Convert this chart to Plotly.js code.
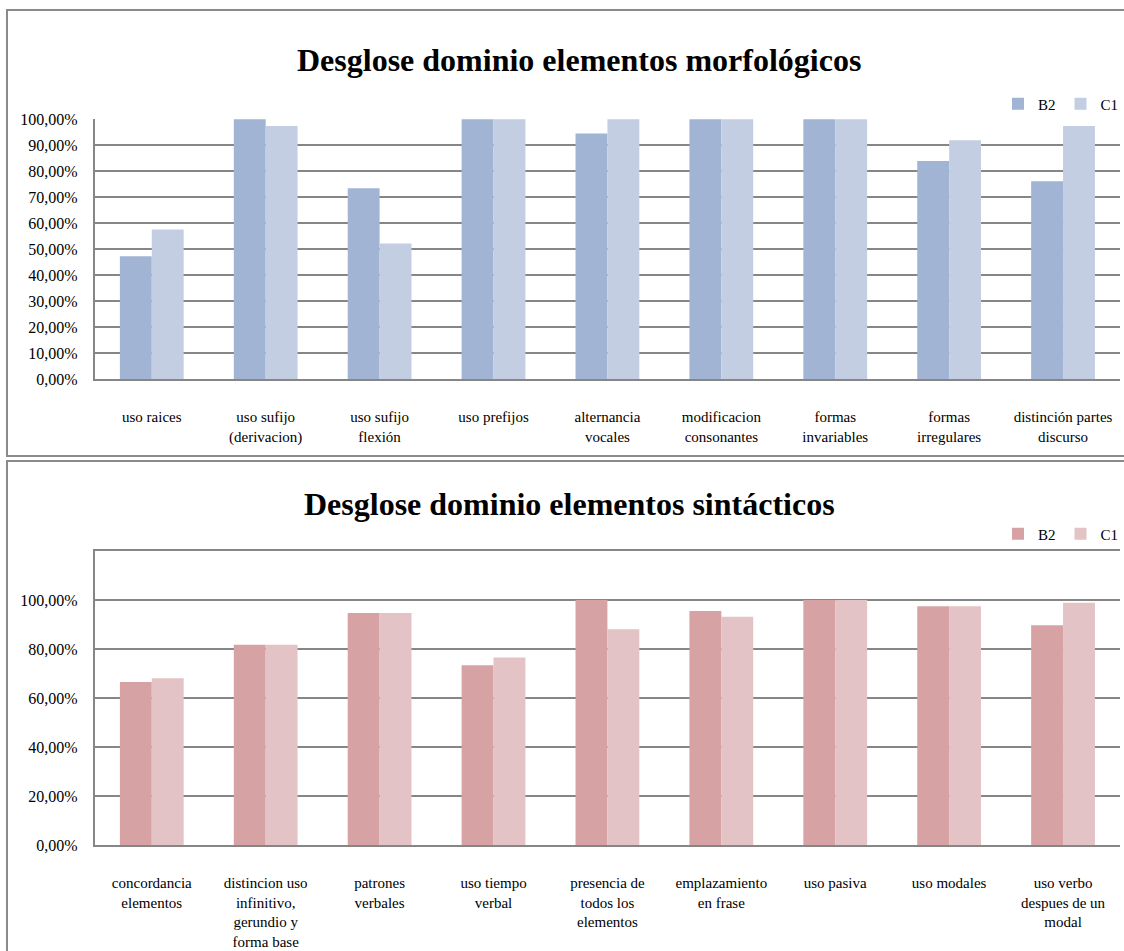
<!DOCTYPE html>
<html>
<head>
<meta charset="utf-8">
<script src="https://cdn.plot.ly/plotly-3.0.1.min.js"></script>
<style>html,body{margin:0;padding:0;background:#fff;}#chart{width:1124px;height:951px;}</style>
</head>
<body>
<div id="chart"></div>
<script>
// ---- Data ----
var morphCategories = ["uso raices", "uso sufijo<br>(derivacion)", "uso sufijo<br>flexión", "uso prefijos",
  "alternancia<br>vocales", "modificacion<br>consonantes", "formas<br>invariables", "formas<br>irregulares",
  "distinción partes<br>discurso"];
var morphB2 = [0.472, 1.0, 0.734, 1.0, 0.945, 1.0, 1.0, 0.839, 0.761];
var morphC1 = [0.575, 0.974, 0.521, 1.0, 1.0, 1.0, 1.0, 0.919, 0.974];

var syntCategories = ["concordancia<br>elementos", "distincion uso<br>infinitivo,<br>gerundio y<br>forma base",
  "patrones<br>verbales", "uso tiempo<br>verbal", "presencia de<br>todos los<br>elementos",
  "emplazamiento<br>en frase", "uso pasiva", "uso modales", "uso verbo<br>despues de un<br>modal"];
var syntB2 = [0.665, 0.817, 0.947, 0.734, 1.0, 0.955, 1.0, 0.974, 0.897];
var syntC1 = [0.681, 0.817, 0.947, 0.765, 0.881, 0.932, 1.0, 0.974, 0.989];

var seriesNames = ["B2", "C1"];
var morphTitle = "Desglose dominio elementos morfológicos";
var syntTitle = "Desglose dominio elementos sintácticos";
var morphTickVals = [0, 0.1, 0.2, 0.3, 0.4, 0.5, 0.6, 0.7, 0.8, 0.9, 1.0];
var syntTickVals = [0, 0.2, 0.4, 0.6, 0.8, 1.0, 1.2];
var syntTickText = ["0,00%", "20,00%", "40,00%", "60,00%", "80,00%", "100,00%", ""];

// ---- Geometry helpers (pixel -> paper) ----
var W = 1124, H = 951;
function px(x) { return x / W; }
function py(y) { return 1 - y / H; }

var FONT = "'Liberation Serif', 'Times New Roman', 'DejaVu Serif', serif";
var GRID = "#868686";

var traces = [
  { type: "bar", x: morphCategories, y: morphB2, name: seriesNames[0], xaxis: "x", yaxis: "y",
    marker: { color: "#A1B4D4" }, legend: "legend", hoverinfo: "x+y" },
  { type: "bar", x: morphCategories, y: morphC1, name: seriesNames[1], xaxis: "x", yaxis: "y",
    marker: { color: "#C3CEE3" }, legend: "legend", hoverinfo: "x+y" },
  { type: "bar", x: syntCategories, y: syntB2, name: seriesNames[0], xaxis: "x2", yaxis: "y2",
    marker: { color: "#D6A2A3" }, legend: "legend2", hoverinfo: "x+y" },
  { type: "bar", x: syntCategories, y: syntC1, name: seriesNames[1], xaxis: "x2", yaxis: "y2",
    marker: { color: "#E3C3C5" }, legend: "legend2", hoverinfo: "x+y" }
];

var xCommon = {
  showgrid: false, zeroline: false, showline: true, linecolor: GRID, linewidth: 2,
  ticks: "outside", ticklen: 23, tickcolor: "rgba(0,0,0,0)",
  tickfont: { family: FONT, size: 15, color: "#000" }, tickangle: 0, fixedrange: true
};
var yCommon = {
  showgrid: true, gridcolor: GRID, gridwidth: 2, zeroline: false, showline: true,
  linecolor: GRID, linewidth: 2, ticks: "outside", ticklen: 12, tickcolor: "rgba(0,0,0,0)",
  tickfont: { family: FONT, size: 16, color: "#000" }, fixedrange: true
};

var layout = {
  width: W, height: H,
  margin: { l: 0, r: 0, t: 0, b: 0 },
  paper_bgcolor: "#fff", plot_bgcolor: "rgba(0,0,0,0)",
  separators: ",.",
  barmode: "group", bargap: 0.44, bargroupgap: 0,
  font: { family: FONT, color: "#000" },
  xaxis: Object.assign({}, xCommon, { domain: [px(95), px(1122)], anchor: "y" }),
  yaxis: Object.assign({}, yCommon, { domain: [py(379), py(119)], anchor: "x",
    range: [0, 1.0005], tickvals: morphTickVals, tickformat: ".2%" }),
  xaxis2: Object.assign({}, xCommon, { domain: [px(95), px(1122)], anchor: "y2", mirror: true }),
  yaxis2: Object.assign({}, yCommon, { domain: [py(845), py(551)], anchor: "x2",
    range: [0, 1.2], tickvals: syntTickVals, ticktext: syntTickText }),
  showlegend: true,
  legend: { orientation: "h", x: px(1126), xanchor: "right", y: py(104), yanchor: "middle",
    font: { family: FONT, size: 15, color: "#000" }, bgcolor: "rgba(0,0,0,0)",
    itemwidth: 30, traceorder: "normal" },
  legend2: { orientation: "h", x: px(1126), xanchor: "right", y: py(534), yanchor: "middle",
    font: { family: FONT, size: 15, color: "#000" }, bgcolor: "rgba(0,0,0,0)",
    itemwidth: 30, traceorder: "normal" },
  annotations: [
    { text: "<b>" + morphTitle + "</b>", xref: "paper", yref: "paper", x: px(580), y: py(60),
      xanchor: "center", yanchor: "middle", showarrow: false,
      font: { family: FONT, size: 32, color: "#000" } },
    { text: "<b>" + syntTitle + "</b>", xref: "paper", yref: "paper", x: px(571), y: py(504),
      xanchor: "center", yanchor: "middle", showarrow: false,
      font: { family: FONT, size: 32, color: "#000" } }
  ],
  shapes: [
    { type: "rect", xref: "paper", yref: "paper", x0: px(7), x1: px(1130), y0: py(456), y1: py(10),
      line: { color: "#8A8A8A", width: 2 }, fillcolor: "rgba(0,0,0,0)", layer: "below" },
    { type: "rect", xref: "paper", yref: "paper", x0: px(7), x1: px(1130), y0: py(960), y1: py(461),
      line: { color: "#8A8A8A", width: 2 }, fillcolor: "rgba(0,0,0,0)", layer: "below" }
  ]
};

Plotly.newPlot("chart", traces, layout, { displayModeBar: false, staticPlot: true });
</script>
</body>
</html>
